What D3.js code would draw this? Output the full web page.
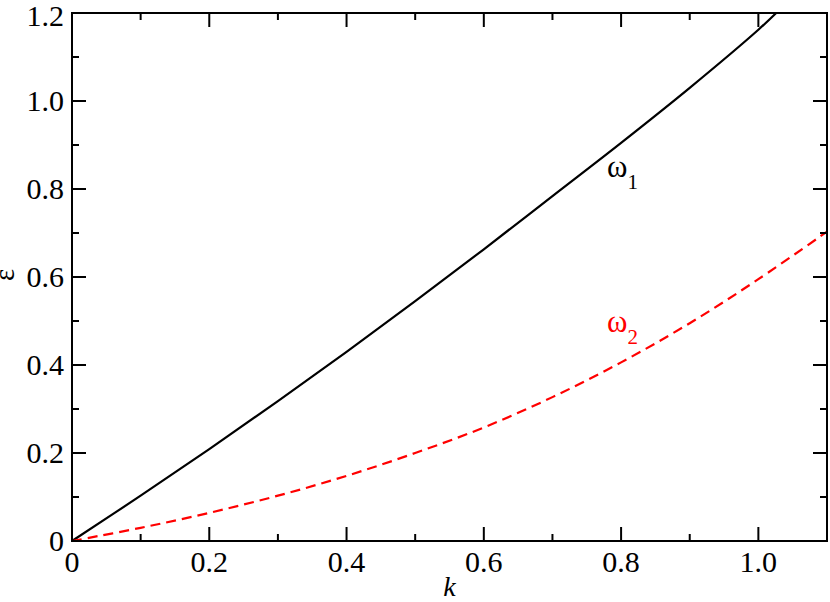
<!DOCTYPE html>
<html>
<head>
<meta charset="utf-8">
<script src="https://cdn.jsdelivr.net/npm/d3@7"></script>
</head>
<body style="margin:0">
<svg id="dispersion" width="830" height="602"></svg>
<script>
// values
const kValues  = [0, 0.1, 0.2, 0.3, 0.4, 0.5, 0.6, 0.7, 0.8, 0.9, 1.0, 1.026];
const omega1   = [0, 0.103, 0.209, 0.318, 0.430, 0.545, 0.663, 0.784, 0.905, 1.03, 1.162, 1.2];
const kValues2 = [0, 0.1, 0.2, 0.3, 0.4, 0.5, 0.6, 0.7, 0.8, 0.9, 1.0, 1.1];
const omega2   = [0, 0.03, 0.064, 0.103, 0.148, 0.200, 0.258, 0.327, 0.406, 0.495, 0.595, 0.703];
const xTicks = [0, 0.2, 0.4, 0.6, 0.8, 1.0];
const yTicks = [0, 0.2, 0.4, 0.6, 0.8, 1.0, 1.2];
const xMinor = [0.1, 0.3, 0.5, 0.7, 0.9];
const yMinor = [0.1, 0.3, 0.5, 0.7, 0.9, 1.1];

const SERIF = "Liberation Serif";
const serif = sel => sel.attr("font-family", SERIF).style("font-family", SERIF, "important");

const svg = d3.select("#dispersion");
const m = { left: 72, right: 827, top: 13, bottom: 541 };
const x = d3.scaleLinear().domain([0, 1.1]).range([m.left, m.right]);
const y = d3.scaleLinear().domain([0, 1.2]).range([m.bottom, m.top]);
const fmt = d => d === 0 ? "0" : d3.format(".1f")(d);

const line = d3.line().x(d => x(d[0])).y(d => y(d[1])).curve(d3.curveCatmullRom);

svg.append("path")
  .datum(kValues.map((k, i) => [k, omega1[i]]))
  .attr("d", line).attr("fill", "none")
  .attr("stroke", "#000").attr("stroke-width", 2.2);

svg.append("path")
  .datum(kValues2.map((k, i) => [k, omega2[i]]))
  .attr("d", line).attr("fill", "none")
  .attr("stroke", "#ff0000").attr("stroke-width", 2.2)
  .attr("stroke-dasharray", "10,6");

// inward ticks on all four sides
const tickG = svg.append("g").attr("stroke", "#000").attr("stroke-width", 2);
const xTick = (t, len) => {
  tickG.append("line").attr("x1", x(t)).attr("x2", x(t)).attr("y1", m.bottom).attr("y2", m.bottom - len);
  tickG.append("line").attr("x1", x(t)).attr("x2", x(t)).attr("y1", m.top).attr("y2", m.top + len);
};
const yTick = (t, len) => {
  tickG.append("line").attr("x1", m.left).attr("x2", m.left + len).attr("y1", y(t)).attr("y2", y(t));
  tickG.append("line").attr("x1", m.right).attr("x2", m.right - len).attr("y1", y(t)).attr("y2", y(t));
};
xTicks.forEach(t => xTick(t, 14));
xMinor.forEach(t => xTick(t, 7));
yTicks.forEach(t => yTick(t, 14));
yMinor.forEach(t => yTick(t, 7));

svg.append("rect")
  .attr("x", m.left).attr("y", m.top)
  .attr("width", m.right - m.left).attr("height", m.bottom - m.top)
  .attr("fill", "none").attr("stroke", "#000").attr("stroke-width", 2);

// tick labels
svg.append("g").selectAll("text").data(xTicks).join("text")
  .call(serif)
  .attr("x", d => x(d)).attr("y", 572)
  .attr("text-anchor", "middle").attr("font-size", 30)
  .text(fmt);
svg.append("g").selectAll("text").data(yTicks).join("text")
  .call(serif)
  .attr("x", 64).attr("y", d => Math.max(y(d) + 10, 26))
  .attr("text-anchor", "end").attr("font-size", 30)
  .text(fmt);

// axis titles
svg.append("text").call(serif)
  .attr("x", (m.left + m.right) / 2).attr("y", 596)
  .attr("text-anchor", "middle").attr("font-size", 28).attr("font-style", "italic")
  .text("k");
svg.append("text").call(serif)
  .attr("transform", `translate(14,${(m.top + m.bottom) / 2 - 2}) rotate(-90)`)
  .attr("text-anchor", "middle").attr("font-size", 29)
  .text("ε");

// curve labels
const lab1 = svg.append("text").call(serif)
  .attr("x", 607).attr("y", 177).attr("font-size", 31);
lab1.append("tspan").call(serif).text("ω");
lab1.append("tspan").call(serif).attr("font-size", 21).attr("dy", 12).text("1");
const lab2 = svg.append("text").call(serif)
  .attr("x", 607).attr("y", 332).attr("font-size", 31).attr("fill", "#ff0000");
lab2.append("tspan").call(serif).text("ω");
lab2.append("tspan").call(serif).attr("font-size", 21).attr("dy", 12).text("2");
</script>
</body>
</html>
